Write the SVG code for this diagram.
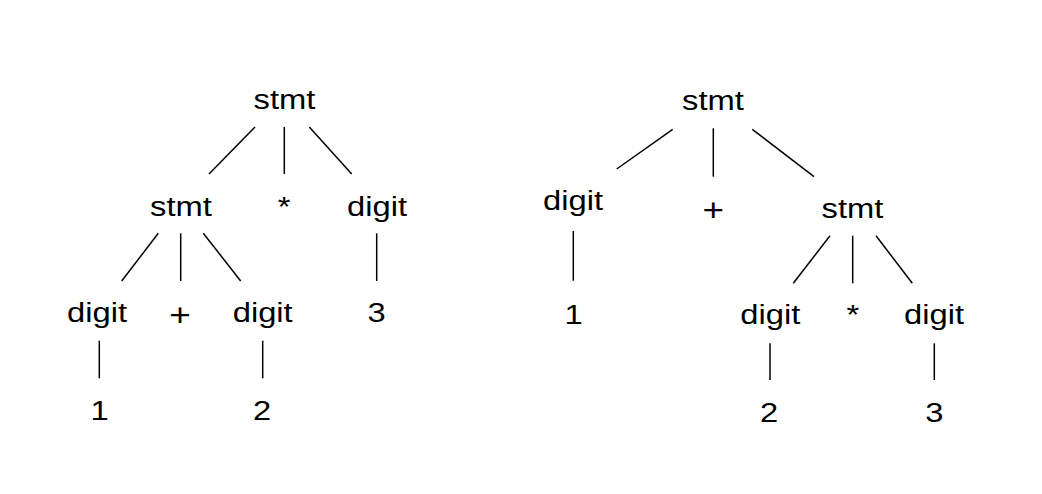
<svg xmlns="http://www.w3.org/2000/svg" width="1042" height="494" viewBox="0 0 1042 494">
<style>
text{font-family:"Liberation Sans",Arial,Helvetica,sans-serif;font-size:27.5px;fill:#000;text-anchor:middle}
text.op{font-size:31px}
.c line{stroke:#000;stroke-width:1.5;stroke-linecap:butt}
</style>
<rect width="1042" height="494" fill="#fff"/>
<g class="c" id="connectors">
<line x1="255" y1="127" x2="209" y2="174"/>
<line x1="284.3" y1="127" x2="284.3" y2="174"/>
<line x1="309.3" y1="127" x2="351.7" y2="174"/>
<line x1="158.3" y1="233.3" x2="121.7" y2="281"/>
<line x1="180.7" y1="233.3" x2="180.7" y2="281"/>
<line x1="203.3" y1="233.3" x2="240.7" y2="281"/>
<line x1="376.7" y1="233.3" x2="376.7" y2="281"/>
<line x1="99.3" y1="340.7" x2="99.3" y2="378.3"/>
<line x1="262.7" y1="340.7" x2="262.7" y2="378.3"/>
<line x1="672.7" y1="129.3" x2="616.7" y2="169"/>
<line x1="713.3" y1="128.3" x2="713.3" y2="176.7"/>
<line x1="752.3" y1="129.3" x2="814" y2="176.7"/>
<line x1="573.3" y1="231" x2="573.3" y2="280.7"/>
<line x1="830" y1="235.7" x2="793.3" y2="283.3"/>
<line x1="852.7" y1="235.7" x2="852.7" y2="283.3"/>
<line x1="876" y1="235.7" x2="912.3" y2="283.3"/>
<line x1="770" y1="343.3" x2="770" y2="380"/>
<line x1="934.3" y1="343.3" x2="934.3" y2="380"/>
</g>
<g id="L_stmt_root"><text transform="translate(284.5,109) scale(1.19,1)">stmt</text></g>
<g id="L_stmt"><text transform="translate(181,215.5) scale(1.19,1)">stmt</text></g>
<g id="L_star"><text transform="translate(284,215.5) scale(1.19,1)">*</text></g>
<g id="L_digit3"><text transform="translate(377,215.5) scale(1.19,1)">digit</text></g>
<g id="L_digit1"><text transform="translate(97,322) scale(1.19,1)">digit</text></g>
<g id="L_plus"><text class="op" transform="translate(180,326) scale(1.19,1)">+</text></g>
<g id="L_digit2"><text transform="translate(262.7,322) scale(1.19,1)">digit</text></g>
<g id="L_3"><text transform="translate(376.7,322) scale(1.19,1)">3</text></g>
<g id="L_1"><text transform="translate(99.5,420) scale(1.19,1)">1</text></g>
<g id="L_2"><text transform="translate(262,420) scale(1.19,1)">2</text></g>
<g id="R_stmt_root"><text transform="translate(713,110) scale(1.19,1)">stmt</text></g>
<g id="R_digit1"><text transform="translate(573,210) scale(1.19,1)">digit</text></g>
<g id="R_plus"><text class="op" transform="translate(713.3,221) scale(1.19,1)">+</text></g>
<g id="R_stmt"><text transform="translate(852.5,217.5) scale(1.19,1)">stmt</text></g>
<g id="R_1"><text transform="translate(573.5,324) scale(1.19,1)">1</text></g>
<g id="R_digit2"><text transform="translate(770.3,323.5) scale(1.19,1)">digit</text></g>
<g id="R_star"><text transform="translate(852.8,323.5) scale(1.19,1)">*</text></g>
<g id="R_digit3"><text transform="translate(934,323.5) scale(1.19,1)">digit</text></g>
<g id="R_2"><text transform="translate(769,421.5) scale(1.19,1)">2</text></g>
<g id="R_3"><text transform="translate(934.3,421.5) scale(1.19,1)">3</text></g>
</svg>
